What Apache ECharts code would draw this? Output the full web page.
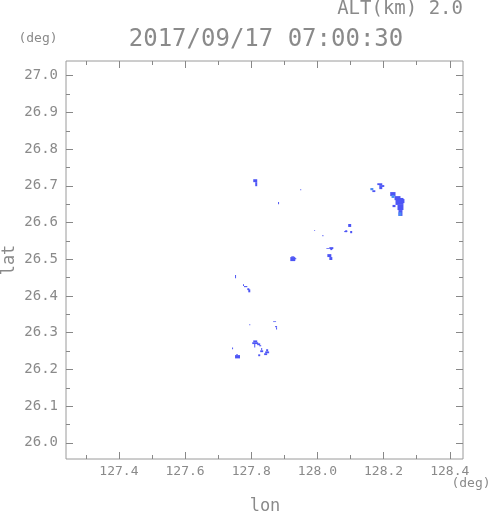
<!DOCTYPE html>
<html><head><meta charset="utf-8">
<script src="https://cdn.jsdelivr.net/npm/echarts@6/dist/echarts.min.js"></script>
<style>html,body{margin:0;padding:0;background:#fff}#c{width:491px;height:521px}</style>
</head><body><div id="c"></div>
<script>
// ---- text ----
const titleText = '2017/09/17 07:00:30';
const altText = 'ALT(km) 2.0';
const xName = 'lon';
const yName = 'lat';
const unitText = '(deg)';

// ---- axes ----
const lonRange = [127.24, 128.44];
const latRange = [25.956, 27.04];
const lonMajor = [127.4, 127.6, 127.8, 128.0, 128.2, 128.4];
const lonMinor = [127.3, 127.5, 127.7, 127.9, 128.1, 128.3];
const latMajor = [26.0, 26.1, 26.2, 26.3, 26.4, 26.5, 26.6, 26.7, 26.8, 26.9, 27.0];
const latMinor = [26.05, 26.15, 26.25, 26.35, 26.45, 26.55, 26.65, 26.75, 26.85, 26.95];

// ---- echo cells: [lonWest, lonEast, latSouth, latNorth] ----
const echoDark = [
  [127.806,127.818,26.710,26.718],[127.812,127.818,26.699,26.710],
  [127.948,127.951,26.688,26.691],
  [127.881,127.884,26.650,26.656],
  [127.990,127.993,26.577,26.579],
  [128.015,128.018,26.563,26.566],
  [127.921,127.930,26.506,26.508],[127.918,127.933,26.495,26.506],[127.930,127.936,26.500,26.503],
  [128.027,128.036,26.528,26.530],[128.036,128.048,26.528,26.533],[128.039,128.045,26.525,26.528],
  [128.030,128.042,26.506,26.514],[128.036,128.045,26.498,26.506],
  [128.093,128.102,26.588,26.596],[128.084,128.090,26.574,26.579],[128.081,128.090,26.574,26.577],[128.099,128.105,26.571,26.577],
  [128.181,128.196,26.702,26.707],[128.187,128.202,26.697,26.702],[128.187,128.196,26.691,26.697],
  [128.166,128.175,26.683,26.688],
  [128.220,128.236,26.672,26.683],[128.233,128.251,26.661,26.672],[128.236,128.260,26.648,26.667],
  [128.254,128.263,26.653,26.664],[128.227,128.236,26.642,26.648],[128.242,128.260,26.634,26.648],
  [128.245,128.257,26.618,26.634],
  [127.751,127.754,26.448,26.457],
  [127.775,127.778,26.427,26.432],[127.778,127.788,26.424,26.427],
  [127.788,127.794,26.416,26.421],[127.791,127.797,26.410,26.418],
  [127.794,127.797,26.320,26.323],
  [127.866,127.875,26.329,26.331],[127.872,127.878,26.315,26.318],[127.875,127.878,26.309,26.315],
  [127.806,127.818,26.274,26.279],[127.803,127.821,26.269,26.274],[127.809,127.812,26.260,26.269],
  [127.818,127.827,26.266,26.271],[127.824,127.830,26.263,26.266],
  [127.830,127.833,26.252,26.258],[127.827,127.836,26.247,26.252],
  [127.845,127.851,26.249,26.255],[127.842,127.854,26.244,26.249],[127.839,127.848,26.239,26.244],
  [127.821,127.827,26.236,26.241],
  [127.742,127.745,26.255,26.260],
  [127.754,127.760,26.239,26.241],[127.751,127.766,26.230,26.239]
];
const echoLight = [
  [128.160,128.169,26.688,26.694],
  [128.224,128.233,26.667,26.675],
  [128.245,128.254,26.618,26.628]
];

const GRAY = '#8a8a8a', FRAME = '#9a9a9a', TICK = '#888', FONT = 'DejaVu Sans Mono';

function xAx(pos, vals, len, labels) {
  return {
    type: 'value', position: pos, min: lonRange[0], max: lonRange[1],
    splitLine: {show: false}, axisLine: {show: false},
    axisTick: {show: true, inside: true, length: len, customValues: vals, lineStyle: {color: TICK, width: 1}},
    axisLabel: {show: labels, customValues: vals, formatter: v => v.toFixed(1),
      color: GRAY, fontFamily: FONT, fontSize: 13, margin: 6}
  };
}
function yAx(pos, vals, len, labels) {
  return {
    type: 'value', position: pos, min: latRange[0], max: latRange[1],
    splitLine: {show: false}, axisLine: {show: false},
    axisTick: {show: true, inside: true, length: len, customValues: vals, lineStyle: {color: TICK, width: 1}},
    axisLabel: {show: labels, customValues: vals, formatter: v => v.toFixed(1),
      color: GRAY, fontFamily: FONT, fontSize: 14, margin: 8}
  };
}
function cellSeries(data, color) {
  return {
    type: 'custom', xAxisIndex: 0, yAxisIndex: 0, data: data,
    encode: {x: [0, 1], y: [2, 3]}, silent: true, animation: false,
    renderItem: function (params, api) {
      const p0 = api.coord([api.value(0), api.value(3)]);
      const p1 = api.coord([api.value(1), api.value(2)]);
      return {type: 'rect', shape: {x: p0[0], y: p0[1], width: p1[0] - p0[0], height: p1[1] - p0[1]},
        style: {fill: color}};
    }
  };
}

const chart = echarts.init(document.getElementById('c'), null, {renderer: 'canvas'});
chart.setOption({
  backgroundColor: '#fff',
  animation: false,
  grid: {left: 66, top: 61, width: 397, height: 398, show: true, borderColor: FRAME, borderWidth: 1, backgroundColor: 'transparent'},
  xAxis: [xAx('bottom', lonMajor, 7, true), xAx('bottom', lonMinor, 4, false), xAx('top', lonMajor, 7, false), xAx('top', lonMinor, 4, false)],
  yAxis: [yAx('left', latMajor, 7, true), yAx('left', latMinor, 4, false), yAx('right', latMajor, 7, false), yAx('right', latMinor, 4, false)],
  series: [cellSeries(echoDark, '#4d55f5'), cellSeries(echoLight, '#4a8cf2')],
  graphic: [
    {type: 'text', x: 463, y: 9, style: {text: altText, fill: GRAY, font: '19px "DejaVu Sans Mono"', textAlign: 'right', textVerticalAlign: 'middle'}},
    {type: 'text', x: 266, y: 40, style: {text: titleText, fill: GRAY, font: '24px "DejaVu Sans Mono"', textAlign: 'center', textVerticalAlign: 'middle'}},
    {type: 'text', x: 38, y: 39, style: {text: unitText, fill: GRAY, font: '13px "DejaVu Sans Mono"', textAlign: 'center', textVerticalAlign: 'middle'}},
    {type: 'text', x: 471, y: 484, style: {text: unitText, fill: GRAY, font: '13px "DejaVu Sans Mono"', textAlign: 'center', textVerticalAlign: 'middle'}},
    {type: 'text', x: 265, y: 507, style: {text: xName, fill: GRAY, font: '17px "DejaVu Sans Mono"', textAlign: 'center', textVerticalAlign: 'middle'}},
    {type: 'text', x: 10, y: 260, rotation: Math.PI / 2, style: {text: yName, fill: GRAY, font: '17px "DejaVu Sans Mono"', textAlign: 'center', textVerticalAlign: 'middle'}}
  ]
});
</script></body></html>
